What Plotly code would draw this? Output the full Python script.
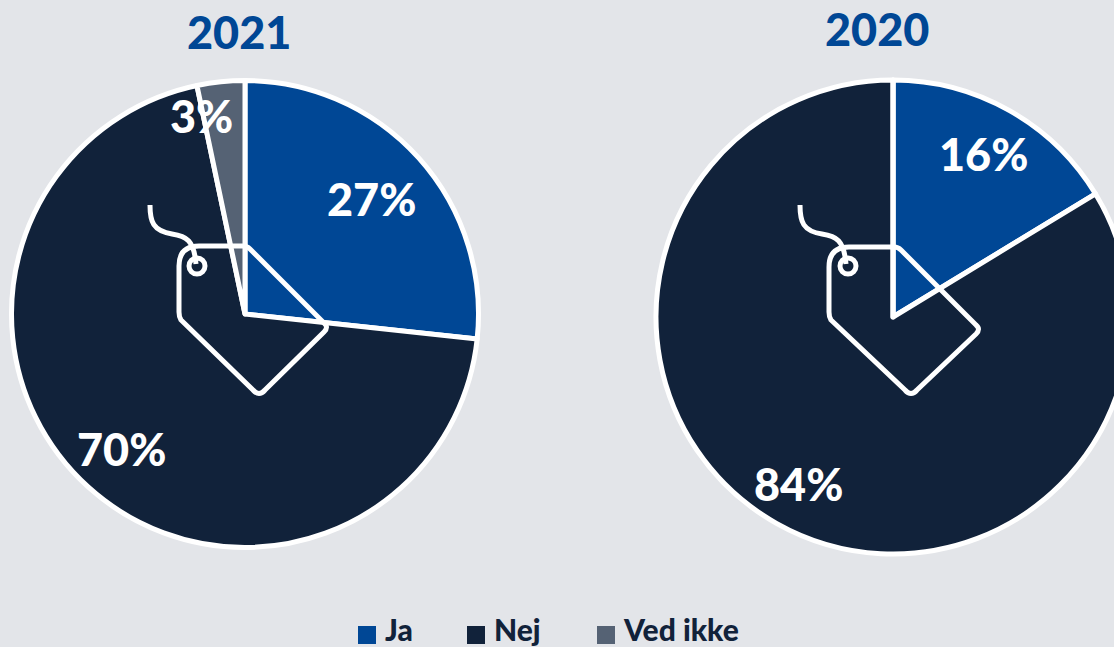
import plotly.graph_objects as go

categories = ["Ja", "Nej", "Ved ikke"]
values_2021 = [26.7, 70.0, 3.3]
values_2020 = [16.3, 83.7, 0.0]
years = ["2021", "2020"]
colors = ["#004795", "#11223A", "#556274"]
BG = "#E3E5E9"
W, H = 1145, 647


def X(p):
    return p / W


def Y(p):
    return 1 - p / H


def dom(cx, cy, r):
    return dict(x=[X(cx - r), X(cx + r)], y=[Y(cy + r), Y(cy - r)])


def pth(cmds):
    out = []
    for c in cmds:
        out.append(c[0] + " ".join(f"{X(c[i]):.5f},{Y(c[i + 1]):.5f}" for i in range(1, len(c), 2)))
    return " ".join(out)


def tag(l, t, tr, rc, b, lb, hole, dx):
    """Price-tag outline drawn over a pie."""
    s = []
    line = dict(color="white", width=5)
    body = [
        ("M", l, lb[1] - 5), ("L", l, t + 20), ("Q", l, t, l + 20, t),
        ("L", tr - 4, t), ("Q", tr, t, tr + 3, t + 3),
        ("L", rc[0] - 3, rc[1] - 4), ("Q", rc[0] + 2, rc[1], rc[0] - 3, rc[1] + 5),
        ("L", b[0] + 6, b[1] - 5), ("Q", b[0], b[1] + 2, b[0] - 6, b[1] - 5),
        ("L", l + 2, lb[1] + 3), ("Q", l, lb[1], l, lb[1] - 5),
    ]
    s.append(dict(type="path", xref="paper", yref="paper", path=pth(body), line=line))
    string = [
        ("M", 150 + dx, 205), ("C", 150 + dx, 222, 153 + dx, 231, 172 + dx, 234),
        ("C", 186 + dx, 236, 194 + dx, 240, 196 + dx, 264),
    ]
    s.append(dict(type="path", xref="paper", yref="paper", path=pth(string), line=line))
    hx, hy = hole
    s.append(dict(type="circle", xref="paper", yref="paper", x0=X(hx - 8), x1=X(hx + 8),
                  y0=Y(hy + 8), y1=Y(hy - 8), line=line))
    return s


fig = go.Figure()
for vals, d in ((values_2021, dom(245, 314, 233.5)), (values_2020, dom(893, 317, 237))):
    fig.add_trace(go.Pie(labels=categories, values=vals, domain=d, sort=False,
                         direction="clockwise", rotation=0, textinfo="none",
                         hoverinfo="label+percent", showlegend=False,
                         marker=dict(colors=colors, line=dict(color="white", width=5))))

FONT = "Lato"
ann = []
for yr, (x, y) in zip(years, ((239, 32), (877, 29))):
    ann.append(dict(text=yr, x=X(x), y=Y(y), xref="paper", yref="paper", showarrow=False,
                    xanchor="center", yanchor="middle",
                    font=dict(family=FONT, size=45, weight=900, color="#004795")))

label_pos = [
    (values_2021[0], 371, 199), (values_2021[1], 122, 449), (values_2021[2], 201, 116),
    (values_2020[0], 983, 154), (values_2020[1], 798, 484),
]
for v, x, y in label_pos:
    ann.append(dict(text=f"{round(v)}%", x=X(x), y=Y(y), xref="paper", yref="paper", showarrow=False,
                    xanchor="center", yanchor="middle",
                    font=dict(family=FONT, size=45, weight=900, color="white")))

shapes = []
shapes += tag(179, 246, 247, (327, 327), (259, 395), (179, 317), (197, 266), 0)
shapes += tag(829, 247, 898, (979, 329), (911, 395), (829, 317), (848, 266), 650)

for name, col, sx, tx in zip(categories, colors, (358, 467, 597), (385, 494, 623)):
    shapes.append(dict(type="rect", xref="paper", yref="paper", x0=X(sx), x1=X(sx + 18),
                       y0=Y(644), y1=Y(626), fillcolor=col, line=dict(width=0)))
    ann.append(dict(text=name, x=X(tx), y=Y(629), xref="paper", yref="paper", showarrow=False,
                    xanchor="left", yanchor="middle", xshift=-2,
                    font=dict(family=FONT, size=30, weight=900, color=colors[1])))

fig.update_layout(width=W, height=H, autosize=False, margin=dict(l=0, r=0, t=0, b=0, pad=0),
                  paper_bgcolor=BG, plot_bgcolor=BG, annotations=ann, shapes=shapes)
fig.write_html("out.html", config=dict(displayModeBar=False),
               post_script="document.documentElement.style.overflow='hidden';document.body.style.margin='0';document.body.style.overflow='hidden';")
